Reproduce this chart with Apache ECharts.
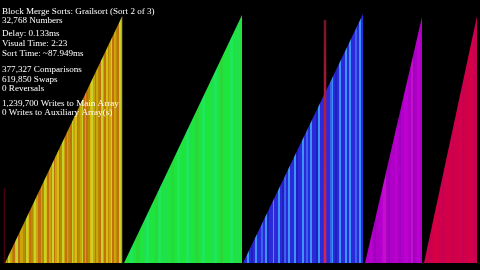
<!DOCTYPE html>
<html>
<head>
<meta charset="utf-8">
<script src="https://cdn.jsdelivr.net/npm/echarts@6/dist/echarts.min.js"></script>
<style>
html,body{margin:0;padding:0;background:#000;}
#chart{width:480px;height:270px;}
</style>
</head>
<body>
<div id="chart"></div>
<script>
// ---- data (array index on x, value on y; array of 32,768 numbers) ----
const arrayLength = 32768;
const runStart = [70, 8313, 16557, 25010, 29097];
const runEnd   = [8190, 16488, 24870, 28958, 32768];
const runTop   = [32505, 32636, 32768, 32373, 32505];
const markerIndex = [30, 22239];
const markerValue = [9870, 31978];
const statLines = [
  'Block Merge Sorts: Grailsort (Sort 2 of 3)',
  '32,768 Numbers',
  'Delay: 0.133ms',
  'Visual Time: 2:23',
  'Sort Time: ~87.949ms',
  '377,327 Comparisons',
  '619,850 Swaps',
  '0 Reversals',
  '1,239,700 Writes to Main Array',
  '0 Writes to Auxiliary Array(s)'
];

// ---- styles ----
const lineY = [11.5, 20.8, 34, 43.5, 53.5, 70, 79.3, 88.6, 103.3, 112.6];
const palettes = [
  {Y:'#caa40a', O:'#c4700e', L:'#c4d22c', G:'#b88c00', A:'#d8bc10'},
  {g:'#1ee43e', h:'#1ee85a', k:'#2ad83a', j:'#22e04c'},
  {B:'#2a2ada', b:'#2020c0', C:'#3c92f6', M:'#3c60ea'},
  {m:'#b000c8', n:'#bc00d2', p:'#a200c0', q:'#c010c8'},
  {r:'#d0004a', s:'#c60052', t:'#d60042'}
];
const patterns = [
  'YOLYGOALOYYGOLAOGYLYOOYGLAOYGLOYAOGLYOYGOLYAOGYLOYOGALYOYGOLYOAGYLOYGOLY',
  'gghgkgjhggkhgjgkghgghjgkghggjhgkgghgjg',
  'BBCBbBCBBMBCbBBCBBCBbMBCBBCbBBCBMBCBBbCBBCBBMCBbBCBBCBCBBMBCB',
  'mmnmpmmnqmpmmnmpmnnmqpmnm',
  'rrsrtrrsrtrsrrtsrrtrs'
];
function stripes(pat, pal) {
  const stops = [];
  const n = pat.length;
  for (let i = 0; i < n; i++) {
    const c = pal[pat[i]];
    stops.push({offset: i / n, color: c});
    stops.push({offset: (i + 1) / n, color: c});
  }
  return {type: 'linear', x: 0, y: 0, x2: 1, y2: 0, colorStops: stops};
}

const series = [];
for (let i = 0; i < runStart.length; i++) {
  series.push({
    type: 'line',
    data: [[runStart[i], 0], [runEnd[i], runTop[i]], [runEnd[i], 0]],
    symbol: 'none',
    silent: true,
    lineStyle: {width: 0, opacity: 0},
    areaStyle: {color: stripes(patterns[i], palettes[i]), opacity: 1},
    z: 2
  });
}
const markerStyles = [
  {width: 1.5, color: '#4a0010'},
  {width: 2.5, color: {type:'linear', x:0, y:0, x2:0, y2:1, colorStops:[
    {offset:0, color:'#701424'}, {offset:0.3, color:'#b01c38'}, {offset:1, color:'#d8284c'}]}}
];
for (let i = 0; i < markerIndex.length; i++) {
  series.push({
    type: 'line',
    data: [[markerIndex[i], 0], [markerIndex[i], markerValue[i]]],
    symbol: 'none',
    silent: true,
    lineStyle: markerStyles[i],
    z: 3
  });
}

const graphic = statLines.map((t, i) => ({
  type: 'text',
  x: 2,
  y: lineY[i],
  z: 10,
  style: {
    text: t,
    fill: '#ffffff',
    font: '9.1px "Liberation Serif", "DejaVu Serif", serif',
    verticalAlign: 'middle',
    align: 'left'
  }
}));

const chart = echarts.init(document.getElementById('chart'), null, {renderer: 'canvas'});
chart.setOption({
  backgroundColor: '#000000',
  animation: false,
  grid: {left: 4, right: 3, top: 14, bottom: 7},
  xAxis: {type: 'value', min: 0, max: arrayLength, show: false},
  yAxis: {type: 'value', min: 0, max: arrayLength, show: false},
  series: series,
  graphic: graphic
});
</script>
</body>
</html>
